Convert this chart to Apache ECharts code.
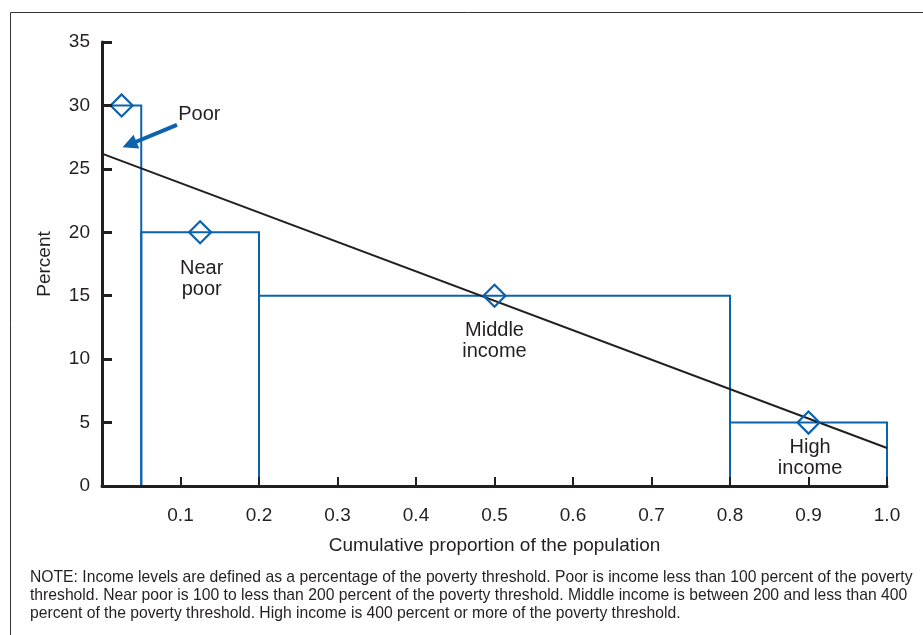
<!DOCTYPE html>
<html><head><meta charset="utf-8">
<script src="https://cdn.jsdelivr.net/npm/echarts@6/dist/echarts.min.js"></script>
<style>html,body{margin:0;padding:0;background:#fff}#c{width:923px;height:635px}</style>
</head><body><div id="c"></div>
<script>
// Income groups: [start, end] of cumulative population share, and percent
const groups = ['Poor', 'Near poor', 'Middle income', 'High income'];
const groupStart = [0, 0.05, 0.2, 0.8];
const groupEnd = [0.05, 0.2, 0.8, 1.0];
const groupPercent = [30, 20, 15, 5];
const markerX = [0.025, 0.125, 0.5, 0.9];
const trendX = [0, 1.0];
const trendY = [26.2, 3.0];
const labelText = ['Poor', 'Near\npoor', 'Middle\nincome', 'High\nincome'];
const labelX = [0.124, 0.127, 0.5, 0.902];
const labelY = [29.25, 16.3, 11.4, 2.2];
const arrowFrom = [0.0955, 28.46];
const arrowTo = [0.035, 26.92];
const noteText = 'NOTE: Income levels are defined as a percentage of the poverty threshold. Poor is income less than 100 percent of the poverty\nthreshold. Near poor is 100 to less than 200 percent of the poverty threshold. Middle income is between 200 and less than 400\npercent of the poverty threshold. High income is 400 percent or more of the poverty threshold.';

const BLUE = '#0b62ad';
const INK = '#231f20';
const FONT = 'Liberation Sans, Arial, sans-serif';

const chart = echarts.init(document.getElementById('c'));
chart.setOption({
  animation: false,
  grid: { left: 102, right: 36, top: 42, bottom: 149 },
  xAxis: {
    type: 'value', min: 0, max: 1, interval: 0.1, z: 10,
    name: 'Cumulative proportion of the population', nameLocation: 'middle', nameGap: 50,
    nameTextStyle: { fontSize: 19, color: INK, fontFamily: FONT },
    axisLine: { lineStyle: { color: INK, width: 3 } },
    axisTick: { inside: true, length: 9, lineStyle: { color: INK, width: 2 } },
    axisLabel: { margin: 20, fontSize: 19, color: INK, fontFamily: FONT,
      formatter: v => v === 0 ? '' : v.toFixed(1) },
    splitLine: { show: false }
  },
  yAxis: {
    type: 'value', min: 0, max: 35, interval: 5, z: 10,
    name: 'Percent', nameLocation: 'middle', nameGap: 48,
    nameTextStyle: { fontSize: 19, color: INK, fontFamily: FONT },
    axisLine: { show: true, lineStyle: { color: INK, width: 3 } },
    axisTick: { show: true, inside: true, length: 10, lineStyle: { color: INK, width: 3 } },
    axisLabel: { margin: 12, fontSize: 19, color: INK, fontFamily: FONT },
    splitLine: { show: false }
  },
  graphic: [
    { type: 'rect', shape: { x: 10.5, y: 12.5, width: 1000, height: 1000 },
      style: { fill: 'none', stroke: '#333', lineWidth: 1 }, silent: true },
    { type: 'text', left: 30, top: 569,
      style: { text: noteText, fontSize: 15.7, lineHeight: 18, fill: INK, fontFamily: FONT } }
  ],
  series: [
    {
      type: 'custom', z: 3,
      data: groups.map((g, i) => [groupStart[i], groupEnd[i], groupPercent[i]]),
      renderItem: (params, api) => {
        const p0 = api.coord([api.value(0), api.value(2)]);
        const p1 = api.coord([api.value(1), 0]);
        return { type: 'rect', shape: { x: p0[0], y: p0[1], width: p1[0] - p0[0], height: p1[1] - p0[1] },
          style: { fill: 'none', stroke: BLUE, lineWidth: 2 } };
      }
    },
    {
      type: 'line', z: 4, symbol: 'none',
      data: trendX.map((x, i) => [x, trendY[i]]),
      lineStyle: { color: INK, width: 2 }
    },
    {
      type: 'scatter', z: 5, symbol: 'diamond', symbolSize: [22, 22],
      data: markerX.map((x, i) => [x, groupPercent[i]]),
      itemStyle: { color: 'rgba(0,0,0,0)', borderColor: BLUE, borderWidth: 2.2, opacity: 1 }
    },
    {
      type: 'scatter', z: 6, symbolSize: 0,
      data: labelText.map((t, i) => ({ value: [labelX[i], labelY[i]], name: t })),
      itemStyle: { opacity: 1 },
      label: { show: true, position: 'inside', formatter: p => p.name,
        fontSize: 20, lineHeight: 21, color: INK, fontFamily: FONT }
    },
    {
      type: 'lines', coordinateSystem: 'cartesian2d', z: 7,
      symbol: ['none', 'triangle'], symbolSize: [15, 15],
      data: [{ coords: [arrowFrom, arrowTo] }],
      lineStyle: { color: BLUE, width: 4, opacity: 1 }
    }
  ]
});
</script></body></html>
